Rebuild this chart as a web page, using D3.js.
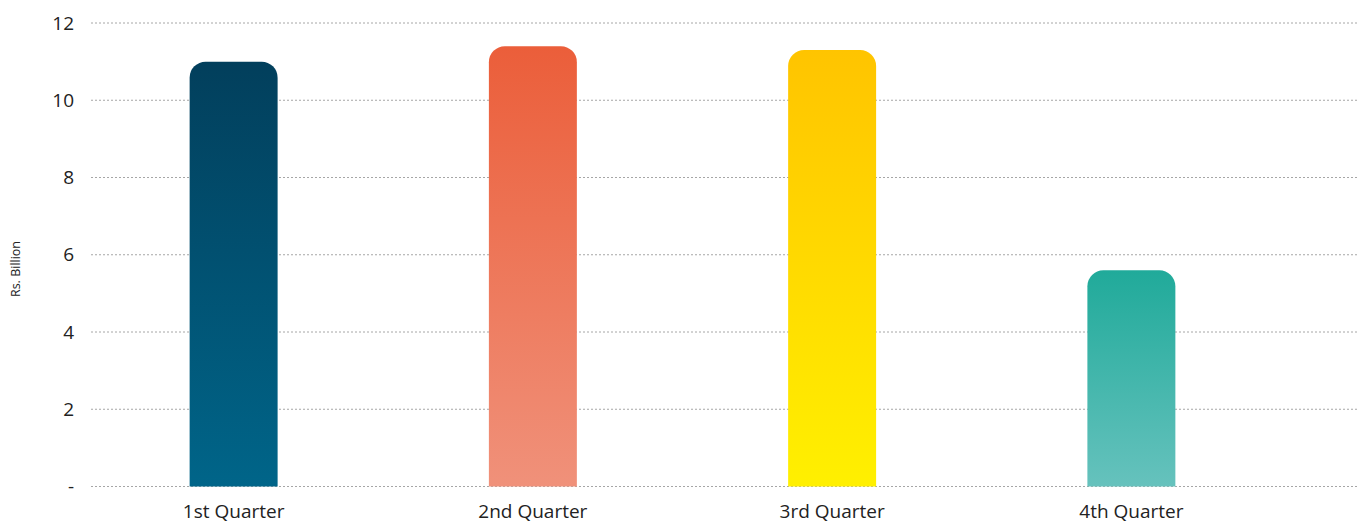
<!DOCTYPE html>
<html>
<head>
<meta charset="utf-8">
<script src="https://cdn.jsdelivr.net/npm/d3@7"></script>
<style>
  body { margin: 0; background: #fff; }
  svg text { font-family: "Open Sans", "Noto Sans", sans-serif; fill: #222; }
</style>
</head>
<body>
<script>
'use strict';

// chart data
const quarters = ["1st Quarter", "2nd Quarter", "3rd Quarter", "4th Quarter"];
const values = [11.0, 11.4, 11.3, 5.6];
const yTicks = [0, 2, 4, 6, 8, 10, 12];
const yTickLabels = ["-", "2", "4", "6", "8", "10", "12"];
const topColors = ["#023f5c", "#eb5e3a", "#ffc400", "#20aa9a"];
const bottomColors = ["#006589", "#f0917a", "#fff000", "#66c2bd"];

(function() {
  const width = 1359, height = 524;
  const plotLeft = 91, plotRight = 1359, plotTop = 23, plotBottom = 486.5;

  let svg = d3.select('body').append('svg')
    .attr('width', width)
    .attr('height', height);

  let x = d3.scaleBand()
    .domain(quarters)
    .range([84, 1281])
    .paddingInner(0.706)
    .paddingOuter(0.353);

  let y = d3.scaleLinear()
    .domain([0, 12])
    .range([plotBottom, plotTop]);

  // gradients for each bar
  let defs = svg.append('defs');
  quarters.forEach((q, i) => {
    let g = defs.append('linearGradient')
      .attr('id', 'grad' + i)
      .attr('x1', 0).attr('y1', 0)
      .attr('x2', 0).attr('y2', 1);
    g.append('stop').attr('offset', '0%').attr('stop-color', topColors[i]);
    g.append('stop').attr('offset', '100%').attr('stop-color', bottomColors[i]);
  });

  // dotted gridlines
  svg.append('g')
    .selectAll('line')
    .data(yTicks)
    .enter()
    .append('line')
      .attr('x1', plotLeft)
      .attr('x2', plotRight)
      .attr('y1', d => y(d))
      .attr('y2', d => y(d))
      .attr('stroke', '#a6a6a6')
      .attr('stroke-width', 1)
      .attr('stroke-dasharray', '2,2');

  // y tick labels
  svg.append('g')
    .selectAll('text')
    .data(yTicks)
    .enter()
    .append('text')
      .attr('x', 74)
      .attr('y', d => y(d))
      .attr('dy', '0.35em')
      .attr('text-anchor', 'end')
      .style('font-size', '19px')
      .text((d, i) => yTickLabels[i]);

  // bars with rounded top corners
  const r = 16;
  svg.append('g')
    .selectAll('path')
    .data(values)
    .enter()
    .append('path')
      .attr('fill', (d, i) => 'url(#grad' + i + ')')
      .attr('d', (d, i) => {
        let x0 = x(quarters[i]), w = x.bandwidth();
        let y0 = y(d), yb = y(0);
        return 'M' + x0 + ',' + yb +
          'V' + (y0 + r) +
          'A' + r + ',' + r + ' 0 0 1 ' + (x0 + r) + ',' + y0 +
          'H' + (x0 + w - r) +
          'A' + r + ',' + r + ' 0 0 1 ' + (x0 + w) + ',' + (y0 + r) +
          'V' + yb + 'Z';
      });

  // x labels
  svg.append('g')
    .selectAll('text')
    .data(quarters)
    .enter()
    .append('text')
      .attr('x', d => x(d) + x.bandwidth() / 2)
      .attr('y', 518)
      .attr('text-anchor', 'middle')
      .style('font-size', '19px')
      .text(d => d);

  // axis title
  svg.append('text')
    .attr('transform', 'translate(20, 269)rotate(-90)')
    .attr('text-anchor', 'middle')
    .style('font-size', '12.5px')
    .text('Rs. Billion');
})();
</script>
</body>
</html>
